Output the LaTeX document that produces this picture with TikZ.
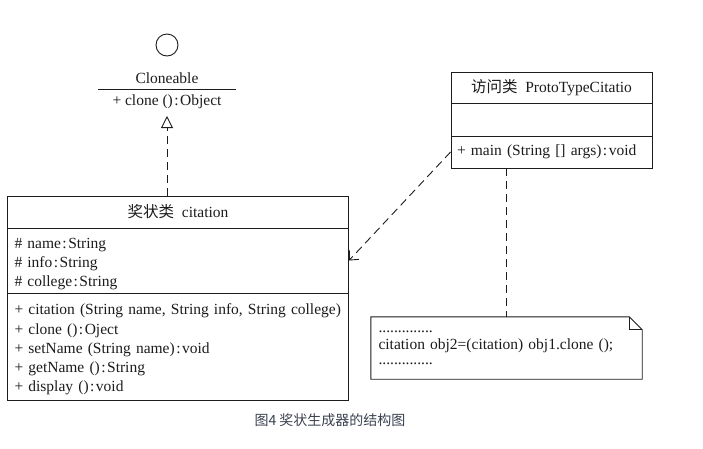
\documentclass[tikz,border=0pt]{standalone}
\usepackage{fontspec}
\setmainfont{Liberation Serif}
\newfontfamily\cjk{Noto Sans CJK SC}
\usepackage{xcolor}
\definecolor{umlInk}{HTML}{1C1C1C}
\definecolor{umlCaption}{HTML}{3C4250}
\usetikzlibrary{arrows.meta}
\newcommand{\deuxPts}{\kern1.5pt:\kern1.5pt}
\newcommand{\hautLigne}{\rule{0pt}{17pt}}
\tikzset{
  %% ── Class boxes ─────────────────────────────────────────────────────
  %% One compartment per node; the boxes are stacked by their centres.
  compartiment/.style = {draw=umlInk, line width=0.9pt, inner sep=0pt,
                         text=umlInk, font=\fontsize{15.5}{19.3}\selectfont},
  compartimentTexte/.style = {compartiment, align=left, text width=#1},
  %%
  %% ── Connectors ──────────────────────────────────────────────────────
  realise/.style   = {-{Triangle[open, length=12pt, width=12pt]}, draw=umlInk,
                      line width=0.9pt, dash pattern=on 8pt off 5pt},
  dependance/.style = {-{Straight Barb[length=7pt, width=13pt]}, draw=umlInk,
                      line width=0.9pt, dash pattern=on 8pt off 5pt},
  lienNote/.style  = {draw=umlInk, line width=0.9pt, dash pattern=on 8pt off 5pt},
  %%
  %% ── Text ────────────────────────────────────────────────────────────
  texte/.style     = {text=umlInk, inner sep=0pt,
                      font=\fontsize{15.5}{15}\selectfont},
  legende/.style   = {text=umlCaption, inner sep=0pt,
                      font=\cjk\fontsize{14}{15}\selectfont},
}

\begin{document}
\begin{tikzpicture}[x=1pt, y=-1pt]

\useasboundingbox[fill=white] (0,0) rectangle (703,448);

%% interface Cloneable (lollipop notation)
\node[draw=umlInk, line width=0.9pt, circle, minimum size=22pt, inner sep=0pt]
     (iface) at (167,45) {};
\node[texte] (ifaceNom) at (167,78) {Cloneable};
\draw[draw=umlInk, line width=0.9pt] (98,89) -- (236,89);
\node[texte] (ifaceOp) at (167,102) {+ clone ()\deuxPts Object};
\coordinate (ifaceBas) at (167,116);

%% class citation
\node[compartiment, minimum width=341pt, minimum height=32pt] (citTete) at (178,212)
     {{\cjk 奖状类}\ \ citation};
\node[compartimentTexte=327pt, minimum width=341pt, minimum height=65pt] (citAttr)
     at (178,260.5)
     {\hautLigne\# name\deuxPts String\\
      \# info\deuxPts String\\
      \# college\deuxPts String};
\node[compartimentTexte=327pt, minimum width=341pt, minimum height=107pt] (citOps)
     at (178,346.5)
     {\hautLigne+ citation (String name, String info, String college)\\
      + clone ()\deuxPts Oject\\
      + setName (String name)\deuxPts void\\
      + getName ()\deuxPts String\\
      + display ()\deuxPts void};

%% class ProtoTypeCitatio
\node[compartiment, minimum width=201pt, minimum height=31pt] (protoTete) at (551.5,87.5)
     {{\cjk 访问类}\ \ ProtoTypeCitatio};
\node[compartiment, minimum width=201pt, minimum height=33pt] (protoAttr) at (551.5,119.5)
     {};
\node[compartimentTexte=189pt, minimum width=201pt, minimum height=32pt] (protoOps)
     at (551.5,152)
     {+ main (String [] args)\deuxPts void};

%% note with folded corner
\node[texte, align=left, text width=256pt, minimum width=271pt, minimum height=62pt,
      font=\fontsize{15.5}{15}\selectfont] (note) at (506.5,348)
     {\raisebox{2pt}{..............}\\
      citation obj2=(citation) obj1.clone ();\\
      ..............};
\draw[draw=umlInk, line width=0.9pt]
     (note.north west) -- ([xshift=-13pt]note.north east)
     -- ([yshift=-13pt]note.north east) -- (note.south east)
     -- (note.south west) -- cycle;
\draw[draw=umlInk, line width=0.9pt]
     ([xshift=-13pt]note.north east) |- ([yshift=-13pt]note.north east);

%% connectors
\draw[realise] (ifaceBas |- citTete.north) -- (ifaceBas);
\draw[dependance] (protoOps.west) -- (citAttr.east);
\draw[lienNote] (note.north |- protoOps.south) -- (note.north);

\node[legende] (titre) at (330,420) {图4 奖状生成器的结构图};

\end{tikzpicture}
\end{document}
